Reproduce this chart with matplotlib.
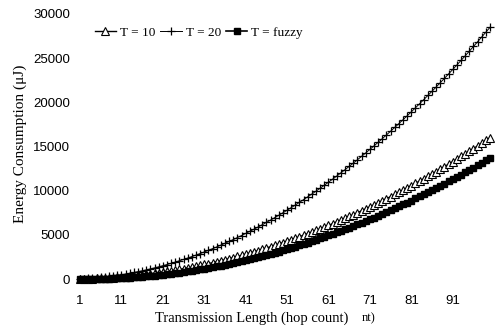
import matplotlib
matplotlib.use("Agg")
import matplotlib.pyplot as plt

hops = list(range(1, 101))
t10 = [7, 16, 29, 45, 64, 86, 111, 139, 171, 205, 243, 283, 327, 374, 424, 477, 533, 592, 655, 720,
       789, 860, 935, 1013, 1094, 1178, 1265, 1355, 1449, 1545, 1645, 1747, 1853, 1962, 2074, 2189, 2307, 2428, 2553, 2680,
       2811, 2944, 3081, 3221, 3364, 3510, 3659, 3811, 3967, 4125, 4287, 4451, 4619, 4790, 4964, 5141, 5321, 5504, 5691, 5880,
       6073, 6268, 6467, 6669, 6874, 7082, 7293, 7507, 7725, 7945, 8169, 8395, 8625, 8858, 9094, 9333, 9575, 9820, 10069, 10320,
       10575, 10832, 11093, 11357, 11624, 11894, 12167, 12443, 12723, 13005, 13291, 13579, 13871, 14166, 14464, 14765, 15069, 15376, 15687, 16000]
t20 = [18, 41, 69, 103, 143, 187, 237, 293, 354, 420, 492, 569, 651, 739, 833, 931, 1035, 1145, 1260, 1380,
       1506, 1637, 1773, 1915, 2063, 2215, 2373, 2537, 2706, 2880, 3060, 3245, 3435, 3631, 3833, 4039, 4251, 4469, 4692, 4920,
       5154, 5393, 5637, 5887, 6143, 6403, 6669, 6941, 7218, 7500, 7788, 8081, 8379, 8683, 8993, 9307, 9627, 9953, 10284, 10620,
       10962, 11309, 11661, 12019, 12383, 12751, 13125, 13505, 13890, 14280, 14676, 15077, 15483, 15895, 16313, 16735, 17163, 17597, 18036, 18480,
       18930, 19385, 19845, 20311, 20783, 21259, 21741, 22229, 22722, 23220, 23724, 24233, 24747, 25267, 25793, 26323, 26859, 27401, 27948, 28500]
fuzzy = [13, 10, 9, 11, 16, 24, 35, 49, 65, 85, 107, 133, 161, 192, 226, 263, 303, 346, 391, 440,
         491, 546, 603, 663, 726, 792, 861, 933, 1007, 1085, 1165, 1249, 1335, 1424, 1516, 1611, 1709, 1810, 1913, 2020,
         2129, 2242, 2357, 2475, 2596, 2720, 2847, 2977, 3109, 3245, 3383, 3525, 3669, 3816, 3966, 4119, 4275, 4434, 4595, 4760,
         4927, 5098, 5271, 5447, 5626, 5808, 5993, 6181, 6371, 6565, 6761, 6961, 7163, 7368, 7576, 7787, 8001, 8218, 8437, 8660,
         8885, 9114, 9345, 9579, 9816, 10056, 10299, 10545, 10793, 11045, 11299, 11557, 11817, 12080, 12346, 12615, 12887, 13162, 13439, 13720]
xticks = [1, 11, 21, 31, 41, 51, 61, 71, 81, 91]
yticks = [0, 5000, 10000, 15000, 20000, 25000, 30000]

serif = "Liberation Serif"
sans = "Liberation Sans"

fig = plt.figure(figsize=(5.0, 3.26), dpi=100)
ax = fig.add_axes([0.14, 0.1104, 0.86, 0.8743])

ax.plot(hops, t10, color="black", lw=1.0, marker="^", markersize=6,
        markerfacecolor="white", markeredgecolor="black", markeredgewidth=0.8, label="T = 10")
ax.plot(hops, t20, color="black", lw=0.7, marker="+", markersize=6,
        markeredgewidth=0.9, label="T = 20")
ax.plot(hops, fuzzy, color="black", lw=1.2, marker="s", markersize=4,
        markerfacecolor="black", markeredgecolor="black", label="T = fuzzy")

ax.set_xlim(-1.4, 102.4)
ax.set_ylim(-1245, 31019)
ax.set_xticks(xticks)
ax.set_yticks(yticks)
for s in ax.spines.values():
    s.set_visible(False)
ax.tick_params(length=0, labelsize=9.5)
ax.tick_params(axis="y", pad=0)
ax.tick_params(axis="x", pad=3.5)
for lab in ax.get_xticklabels() + ax.get_yticklabels():
    lab.set_fontfamily(sans)

fig.text(20 / 500, 1 - 144 / 326, "Energy Consumption (μJ)", fontfamily=serif,
         fontsize=11, rotation=90, ha="center", va="center")
fig.text(252 / 500, 1 - 318 / 326, "Transmission Length (hop count)", fontfamily=serif,
         fontsize=10.5, ha="center", va="center")
fig.text(362 / 500, 1 - 318 / 326, "nt)", fontfamily=serif, fontsize=9, va="center")

leg = ax.legend(loc="upper left", bbox_to_anchor=(0.03, 0.965), ncol=3, frameon=False,
                handlelength=1.6, handletextpad=0.3, columnspacing=0.4,
                prop={"family": serif, "size": 9.5})

fig.savefig("out.png", dpi=100)
